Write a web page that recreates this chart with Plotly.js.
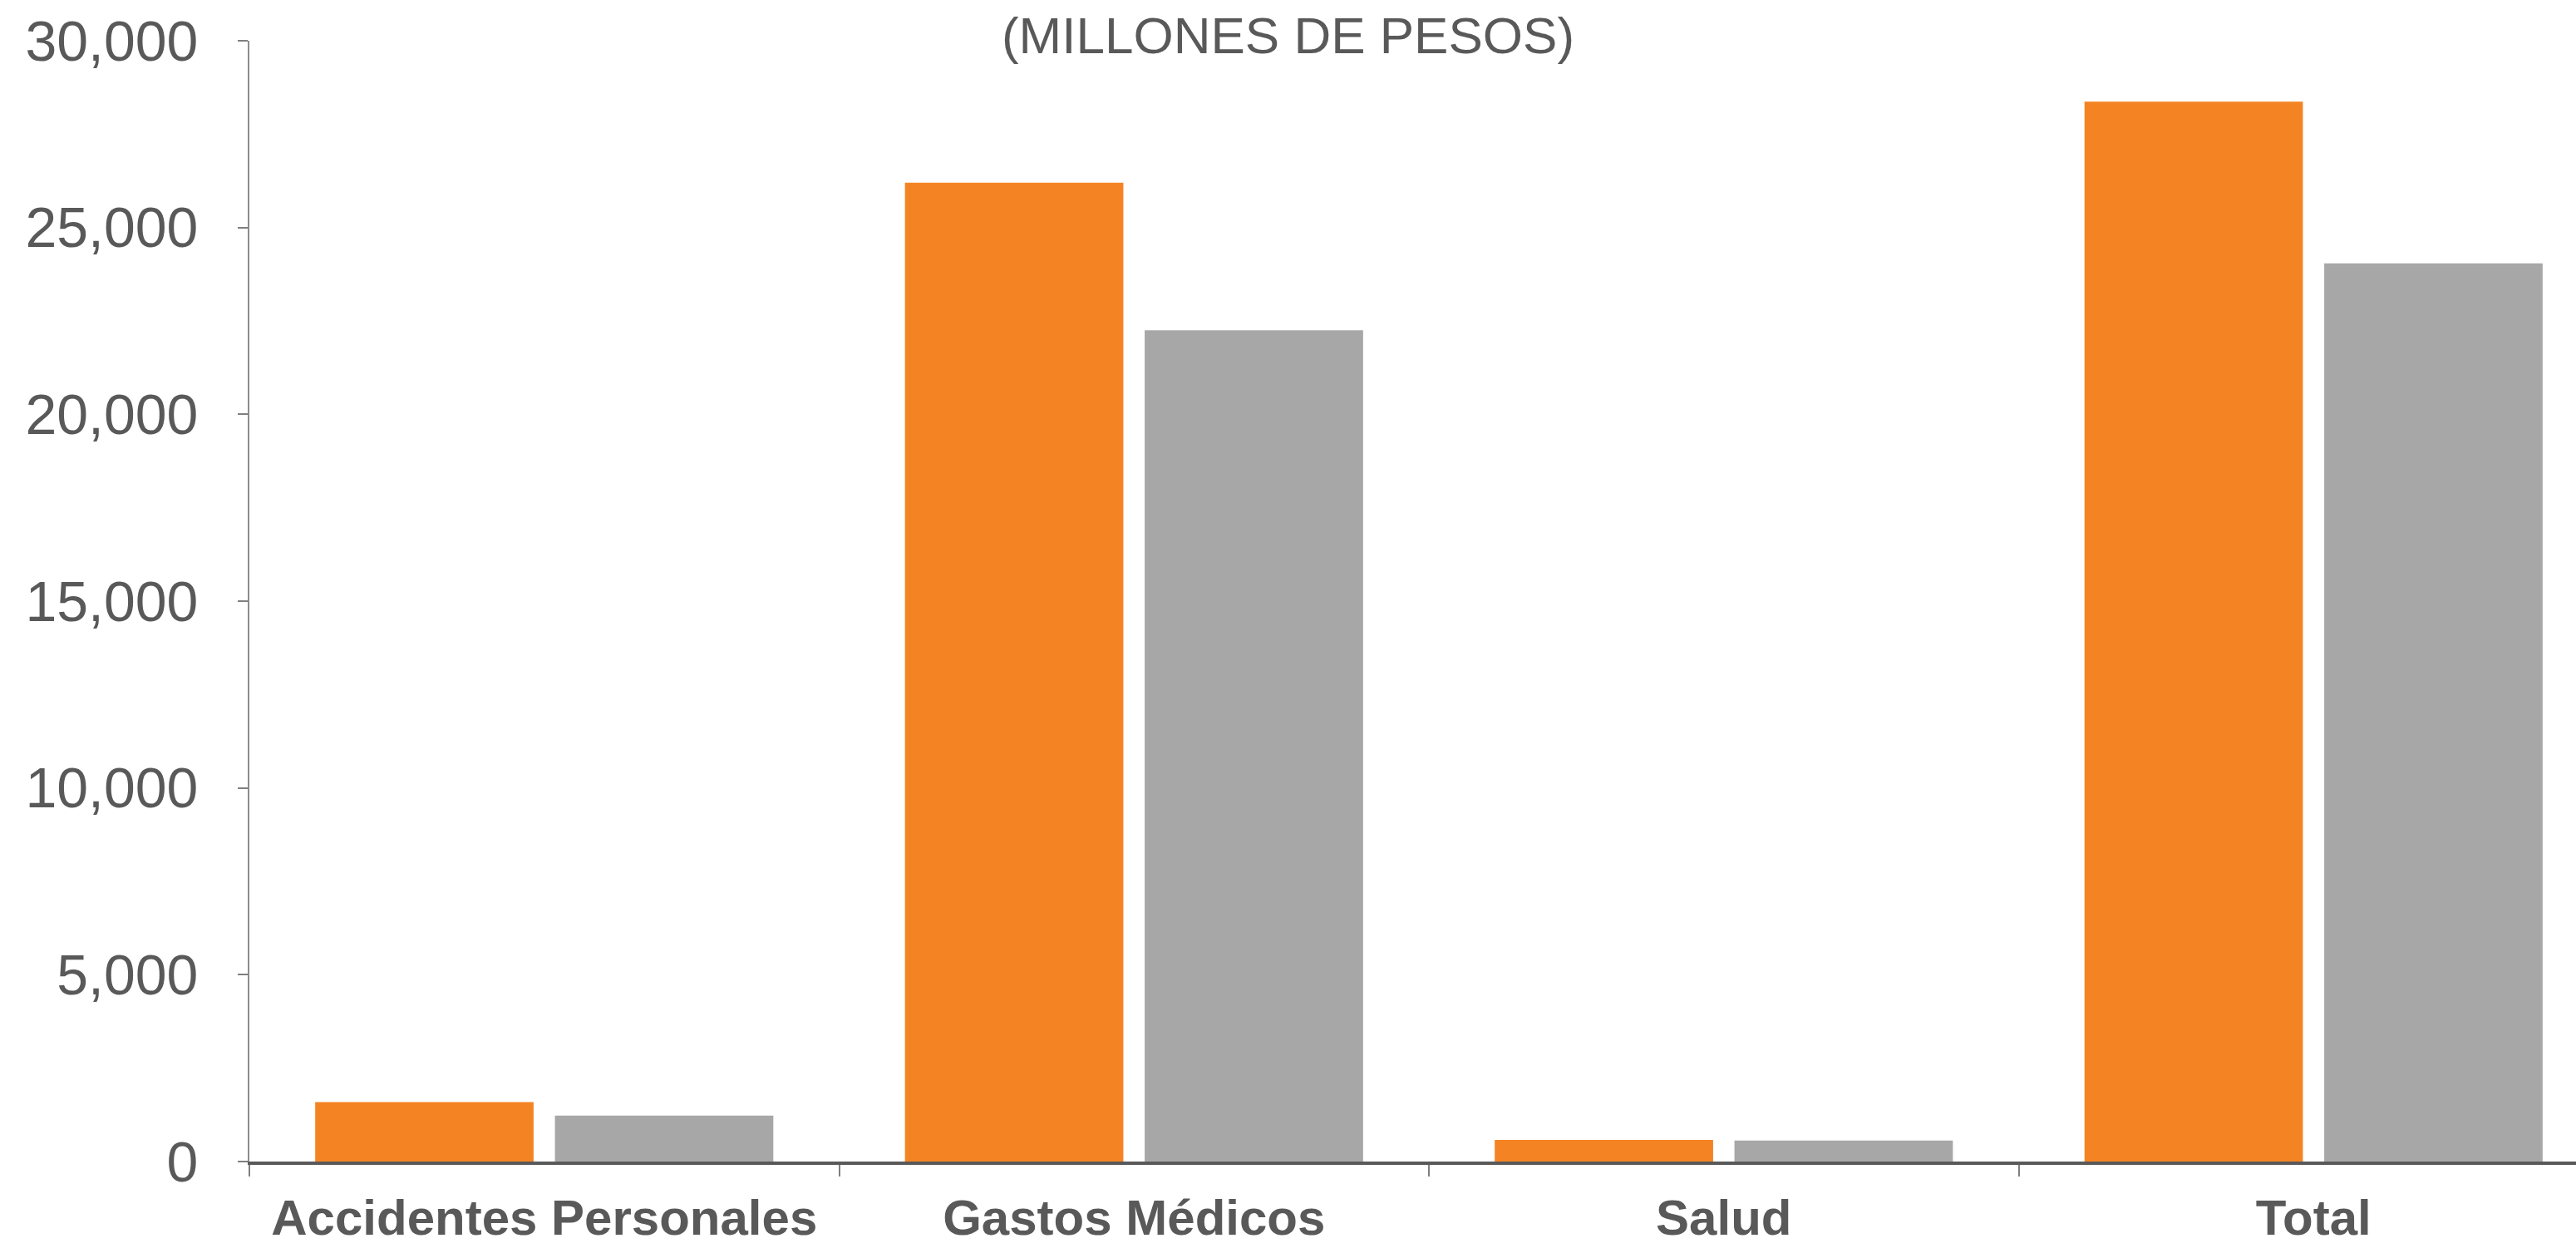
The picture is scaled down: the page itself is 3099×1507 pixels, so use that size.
<!DOCTYPE html>
<html>
<head>
<meta charset="utf-8">
<script src="https://cdn.plot.ly/plotly-3.0.1.min.js"></script>
<style>html,body{margin:0;padding:0;background:#fff;}#chart{width:3099px;height:1507px;}</style>
</head>
<body>
<div id="chart"></div>
<script>
const categories = ["Accidentes Personales", "Gastos Médicos", "Salud", "Total"];
const seriesA = [1590, 26200, 580, 28370];
const seriesB = [1230, 22250, 560, 24040];
const yTickVals = [0, 5000, 10000, 15000, 20000, 25000, 30000];
const titleText = "(MILLONES DE PESOS)";

const textColor = "#595959";
const traces = [
  { type: "bar", name: "Serie A", x: categories, y: seriesA, marker: { color: "#F48423" }, hoverinfo: "x+y" },
  { type: "bar", name: "Serie B", x: categories, y: seriesB, marker: { color: "#A7A7A7" }, hoverinfo: "x+y" }
];

const layout = {
  width: 3099, height: 1507,
  margin: { l: 300, r: 0, t: 49, b: 110 },
  paper_bgcolor: "#fff", plot_bgcolor: "#fff",
  showlegend: false,
  barmode: "group",
  bargap: 0.187,
  bargroupgap: 0.089,
  font: { family: "Liberation Sans Narrow, Arial Narrow, sans-serif", color: textColor },
  title: {
    text: titleText,
    font: { family: "Liberation Sans Narrow, sans-serif", size: 62, color: textColor },
    x: 0.5, xanchor: "center", xref: "container",
    y: 0.99, yref: "container", yanchor: "top",
    pad: { t: 6 }
  },
  xaxis: {
    type: "category",
    range: [-0.5, 3.445],
    showline: true, linecolor: "#595959", linewidth: 4,
    ticks: "outside", tickson: "boundaries", ticklen: 14, tickwidth: 2, tickcolor: "#7f7f7f",
    tickfont: { family: "Liberation Sans Narrow, sans-serif", size: 60, color: textColor, weight: 700 },
    ticklabelstandoff: 12,
    showgrid: false, zeroline: false, fixedrange: true
  },
  yaxis: {
    range: [0, 30000],
    tickvals: yTickVals,
    tickformat: ",d",
    showline: true, linecolor: "#8c8c8c", linewidth: 2,
    ticks: "outside", ticklen: 12, tickwidth: 2, tickcolor: "#7f7f7f",
    tickfont: { family: "Liberation Sans Narrow, sans-serif", size: 68, color: textColor },
    ticklabelstandoff: 34,
    showgrid: false, zeroline: false, fixedrange: true
  }
};

Plotly.newPlot("chart", traces, layout, { displayModeBar: false, staticPlot: true });
</script>
</body>
</html>
